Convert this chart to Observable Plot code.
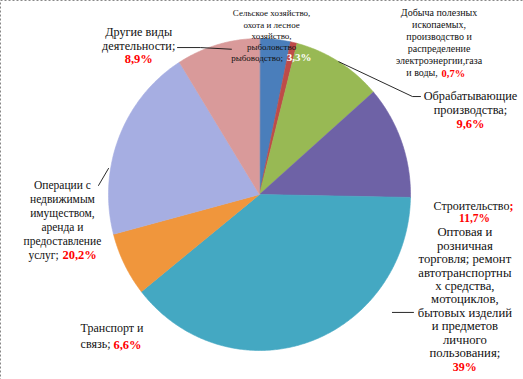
<!DOCTYPE html>
<html>
<head>
<meta charset="utf-8">
<script src="https://cdn.jsdelivr.net/npm/d3@7"></script>
<script src="https://cdn.jsdelivr.net/npm/@observablehq/plot@0.6"></script>
<style>
  html, body { margin: 0; padding: 0; background: #fff; }
  #chart svg { display: block; }
  #chart svg text { font-family: "Liberation Serif", "Times New Roman", serif; }
</style>
</head>
<body>
<div id="chart"></div>
<script>
// ---- data ----
const categories = [
  "Сельское хозяйство, охота и лесное хозяйство, рыболовство, рыбоводство",
  "Добыча полезных ископаемых, производство и распределение электроэнергии,газа и воды",
  "Обрабатывающие производства",
  "Строительство",
  "Оптовая и розничная торговля; ремонт автотранспортных средств, мотоциклов, бытовых изделий и предметов личного пользования",
  "Транспорт и связь",
  "Операции с недвижимым имуществом, аренда и предоставление услуг",
  "Другие виды деятельности"
];
const values = [3.3, 0.7, 9.6, 11.7, 39, 6.6, 20.2, 8.9];
const percentLabels = ["3,3%", "0,7%", "9,6%", "11,7%", "39%", "6,6%", "20,2%", "8,9%"];
const labelLines = [
  ["Сельское хозяйство,", "охота и лесное", "хозяйство,", "рыболовство", "рыбоводство;"],
  ["Добыча полезных", "ископаемых,", "производство и", "распределение", "электроэнергии,газа", "и воды,"],
  ["Обрабатывающие", "производства;"],
  ["Строительство"],
  ["Оптовая и", "розничная", "торговля; ремонт", "автотранспортны", "х средства,", "мотоциклов,", "бытовых изделий", "и предметов", "личного", "пользования;"],
  ["Транспорт и", "связь;"],
  ["Операции с", "недвижимым", "имуществом,", "аренда и", "предоставление", "услуг;"],
  ["Другие виды", "деятельности;"]
];

// ---- styles / layout ----
const sliceColors = ["#4A7EBB", "#BE4B48", "#98B954", "#6E62A6", "#44A8C2", "#F0963C", "#A6AEE2", "#D99A9A"];
const RED = "#FF0000";
const FONT = "'Liberation Serif', 'Times New Roman', serif";
// label layout in pie units (radius = 1, centre = 0,0)
const layout = [
  {x: 0.08, y: 1.160, dy: 0.071, size: 9, pct: "inline", pctColor: "#fff", pctSize: 11, anchor: "middle", split: 0.16},
  {x: 1.189, y: 1.167, dy: 0.078, size: 10, pct: "inline", pctColor: RED, pctSize: 10.5, anchor: "middle", split: 1.186},
  {x: 1.397, y: 0.628, dy: 0.087, size: 12.3, pct: "below", pctColor: RED, pctSize: 12.5, anchor: "middle"},
  {x: 1.655, y: -0.077, dy: 0.077, size: 12, pct: "below", pctColor: RED, pctSize: 11.5, anchor: "end", semi: true, pctX: 1.424},
  {x: 1.36, y: -0.24, dy: 0.0865, size: 12.7, pct: "below", pctColor: RED, pctSize: 12, anchor: "middle"},
  {x: -1.185, y: -0.859, dy: 0.103, size: 12, pct: "inline", pctColor: RED, pctSize: 12.5, anchor: "start", split: -0.967},
  {x: -1.305, y: 0.058, dy: 0.0897, size: 11.5, pct: "inline", pctColor: RED, pctSize: 12.5, anchor: "middle", split: -1.325},
  {x: -0.80, y: 1.038, dy: 0.085, size: 12.2, pct: "below", pctColor: RED, pctSize: 12.5, anchor: "middle"}
];

// ---- pie geometry from the values ----
const pieArcs = d3.pie().sort(null).value(d => d)(values);
const slicePoints = [];
pieArcs.forEach((a, i) => {
  const n = Math.max(4, Math.ceil((a.endAngle - a.startAngle) / 0.01));
  slicePoints.push({name: categories[i], x: 0, y: 0});
  for (let j = 0; j <= n; j++) {
    const t = a.startAngle + (a.endAngle - a.startAngle) * j / n;
    slicePoints.push({name: categories[i], x: Math.sin(t), y: Math.cos(t)});
  }
});

// ---- text items ----
const texts = [];
labelLines.forEach((lines, i) => {
  const L = layout[i];
  lines.forEach((s, j) => {
    const y = L.y - j * L.dy;
    const last = j === lines.length - 1;
    if (last && L.pct === "inline") {
      if (L.anchor === "start") {
        texts.push({x: L.x, y, text: s, fill: "#111", size: L.size, weight: "normal", anchor: "start"});
        texts.push({x: L.split, y, text: percentLabels[i], fill: L.pctColor, size: L.pctSize, weight: "bold", anchor: "start"});
      } else {
        texts.push({x: L.split - 0.005, y, text: s, fill: "#111", size: L.size, weight: "normal", anchor: "end"});
        texts.push({x: L.split + 0.02, y, text: percentLabels[i], fill: L.pctColor, size: L.pctSize, weight: "bold", anchor: "start"});
      }
    } else if (L.semi) {
      texts.push({x: L.x, y, text: s, fill: "#111", size: L.size, weight: "normal", anchor: "end"});
      texts.push({x: L.x, y, text: ";", fill: RED, size: L.size, weight: "bold", anchor: "start"});
    } else {
      texts.push({x: L.x, y, text: s, fill: "#111", size: L.size, weight: "normal", anchor: L.anchor});
    }
  });
  if (L.pct === "below") {
    texts.push({x: L.pctX ?? L.x, y: L.y - lines.length * L.dy, text: percentLabels[i], fill: L.pctColor, size: L.pctSize, weight: "bold", anchor: "middle"});
  }
});

// ---- leader lines ----
const mid = i => (pieArcs[i].startAngle + pieArcs[i].endAngle) / 2;
const leaders = [
  [{x: -0.543, y: 0.942}, {x: -0.391, y: 0.942}, {x: Math.sin(mid(7)) + 0.09, y: Math.cos(mid(7)) - 0.03}],
  [{x: Math.sin(mid(2)), y: Math.cos(mid(2))}, {x: 1.013, y: 0.628}, {x: 1.066, y: 0.628}],
  [{x: -1.066, y: 0.058}, {x: -1.0, y: 0.167}],
  [{x: 0.88, y: -0.756}, {x: 1.02, y: -0.756}]
].flatMap((pts, g) => pts.map(p => ({...p, g})));

const plot = Plot.plot({
  width: 523,
  height: 379,
  marginTop: 0, marginRight: 0, marginBottom: 0, marginLeft: 0,
  x: {domain: [-1, 1], range: [108, 410], axis: null},
  y: {domain: [-1, 1], range: [350, 38], axis: null},
  color: {domain: categories, range: sliceColors},
  style: {background: "#fff", fontFamily: FONT},
  marks: [
    Plot.line(slicePoints, {x: "x", y: "y", z: "name", fill: "name", stroke: "name", strokeWidth: 0.6, curve: "linear-closed"}),
    Plot.line(leaders, {x: "x", y: "y", z: "g", stroke: "#111", strokeWidth: 0.9}),
    ...["start", "middle", "end"].flatMap(anc => ["normal", "bold"].map(w =>
      Plot.text(texts.filter(t => t.anchor === anc && t.weight === w), {
        x: "x", y: "y", text: "text", fill: d => d.fill, fontSize: d => d.size,
        textAnchor: anc, fontWeight: w, fontFamily: FONT
      })
    )),
    Plot.frame({stroke: "#888", strokeDasharray: "2,2", strokeWidth: 1})
  ]
});

document.getElementById("chart").appendChild(plot);
</script>
</body>
</html>
